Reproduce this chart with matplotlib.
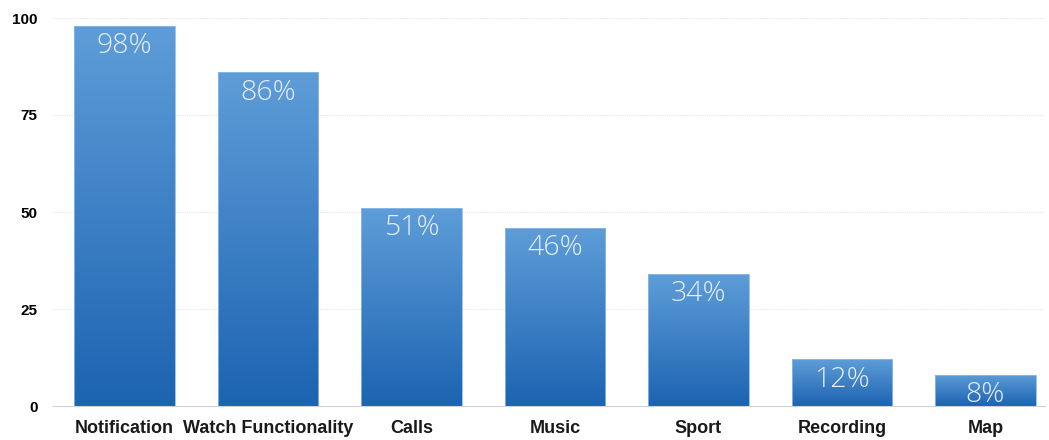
import numpy as np
import matplotlib

matplotlib.use("Agg")
import matplotlib.pyplot as plt
from matplotlib.colors import LinearSegmentedColormap


CATEGORIES = [
    "Notification",
    "Watch Functionality",
    "Calls",
    "Music",
    "Sport",
    "Recording",
    "Map",
]
PERCENT = [98, 86, 51, 46, 34, 12, 8]
Y_TICKS = [0, 25, 50, 75, 100]

BAR_TOP = "#5e9dd8"
BAR_BOTTOM = "#1c63b1"


def gradient_bar(ax, rect, cmap):
    # fill each bar with its own vertical gradient, clipped to the bar shape
    x0, y0 = rect.get_x(), rect.get_y()
    w, h = rect.get_width(), rect.get_height()
    grad = np.linspace(0, 1, 256).reshape(-1, 1)
    img = ax.imshow(
        grad,
        extent=(x0, x0 + w, y0, y0 + h),
        origin="lower",
        aspect="auto",
        cmap=cmap,
        zorder=2,
        interpolation="bicubic",
    )
    img.set_clip_path(rect)


def main():
    plt.rcParams["font.family"] = ["Liberation Sans", "DejaVu Sans"]

    fig = plt.figure(figsize=(10.49, 4.40), dpi=100)
    ax = fig.add_axes([53 / 1049, 34 / 440, 992 / 1049, 388 / 440])

    cmap = LinearSegmentedColormap.from_list("bar", [BAR_BOTTOM, BAR_TOP])
    x = np.arange(len(CATEGORIES))
    bars = ax.bar(x, PERCENT, width=0.70, color="none", edgecolor="#8dbbe6",
                  linewidth=0.6, zorder=3)
    for rect in bars:
        gradient_bar(ax, rect, cmap)

    for xi, val in zip(x, PERCENT):
        ax.text(xi, val - 1.6, f"{val}%", ha="center", va="top",
                fontsize=20.5, color="#e6eef8", fontfamily=["Open Sans", "DejaVu Sans"],
                fontweight="light", zorder=5)

    ax.set_xlim(-0.498, 6.415)
    ax.set_ylim(0, 100)
    ax.set_yticks(Y_TICKS)
    ax.set_yticklabels([str(t) for t in Y_TICKS], fontsize=11, fontweight="bold")
    ax.set_xticks(x)
    ax.set_xticklabels(CATEGORIES, fontsize=13, fontweight="bold", color="#1a1a1a")
    ax.tick_params(axis="both", length=0)
    ax.tick_params(axis="y", pad=11)
    ax.tick_params(axis="x", pad=10)

    for t in Y_TICKS[1:]:
        ax.axhline(t, color="#e6e6e6", linewidth=0.8, linestyle=(0, (1, 1)), zorder=1)

    for name, spine in ax.spines.items():
        spine.set_visible(name == "bottom")
    ax.spines["bottom"].set_color("#d0d0d0")
    ax.spines["bottom"].set_linewidth(0.8)

    fig.savefig("out.png", dpi=100)
    plt.close(fig)


if __name__ == "__main__":
    main()
